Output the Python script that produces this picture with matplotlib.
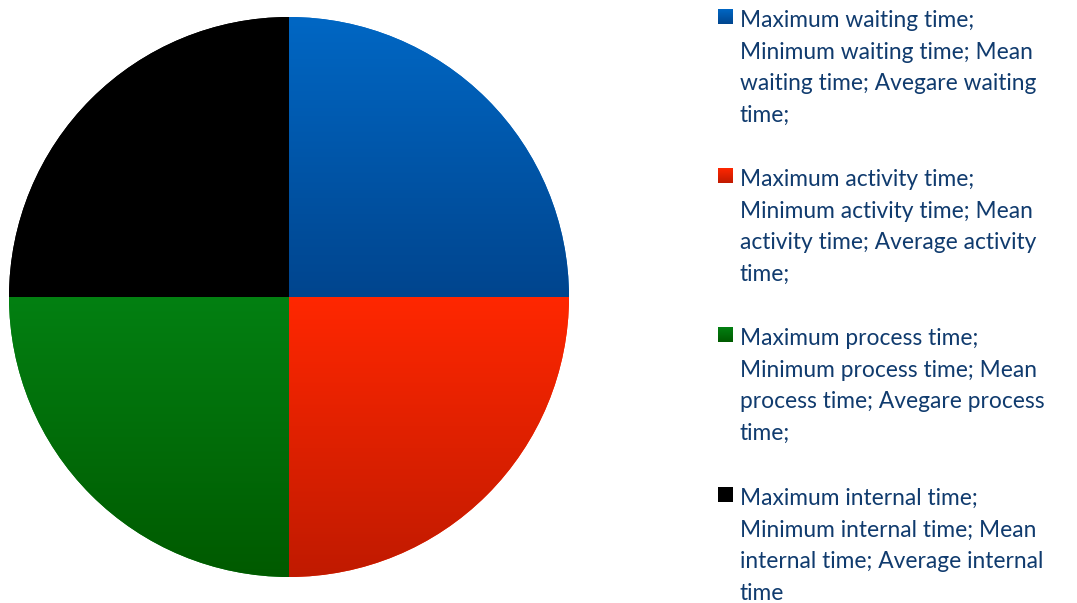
import numpy as np
import matplotlib
matplotlib.use("Agg")
import matplotlib.pyplot as plt
from matplotlib.colors import to_rgb

categories = ["Waiting time", "Activity time", "Process time", "Internal time"]
values = [1, 1, 1, 1]
labels = [
    "Maximum waiting time;\nMinimum waiting time; Mean\nwaiting time; Avegare waiting\ntime;",
    "Maximum activity time;\nMinimum activity time; Mean\nactivity time; Average activity\ntime;",
    "Maximum process time;\nMinimum process time; Mean\nprocess time; Avegare process\ntime;",
    "Maximum internal time;\nMinimum internal time; Mean\ninternal time; Average internal\ntime",
]
top_colors = ["#0067C4", "#FF2700", "#038012", "#000000"]
bottom_colors = ["#00458E", "#C01A00", "#005A00", "#000000"]

W, H = 1077, 603
fig = plt.figure(figsize=(W / 100, H / 100), dpi=100)


def gradient(c1, c2):
    t = np.linspace(0, 1, 256)[:, None, None]
    a, b = np.array(to_rgb(c1)), np.array(to_rgb(c2))
    return b * (1 - t) + a * t  # bottom -> top with origin lower


cx, cy, r = 289, 297, 280
ax = fig.add_axes([(cx - r) / W, (H - cy - r) / H, 2 * r / W, 2 * r / H])
wedges, _ = ax.pie(values, colors=top_colors, startangle=90, counterclock=False,
                   radius=1.0, wedgeprops=dict(linewidth=0))
for w, c1, c2 in zip(wedges, top_colors, bottom_colors):
    v = w.get_path().vertices
    xmin, xmax = v[:, 0].min(), v[:, 0].max()
    ymin, ymax = v[:, 1].min(), v[:, 1].max()
    im = ax.imshow(gradient(c1, c2), extent=[xmin, xmax, ymin, ymax], origin="lower",
                   aspect="auto", zorder=3, interpolation="bilinear")
    im.set_clip_path(w)
ax.set_xlim(-1, 1)
ax.set_ylim(-1, 1)
ax.set_aspect("equal")
ax.axis("off")

# legend (drawn manually so the marker sits at the first line)
text_color = "#103B6E"
first_baselines = [27, 186, 345, 505]
line_pitch = 31.6
for lab, c1, c2, yb in zip(labels, top_colors, bottom_colors, first_baselines):
    for k, line in enumerate(lab.split("\n")):
        fig.text(740 / W, 1 - (yb + k * line_pitch) / H, line, fontsize=16.4,
                 family=["Lato", "DejaVu Sans"], color=text_color,
                 va="baseline", ha="left")
    max_ax = fig.add_axes([718 / W, 1 - (yb - 3) / H, 15 / W, 15 / H])
    max_ax.imshow(gradient(c1, c2), extent=[0, 1, 0, 1], origin="lower",
                  aspect="auto", interpolation="bilinear")
    max_ax.axis("off")

fig.savefig("out.png", dpi=100)
